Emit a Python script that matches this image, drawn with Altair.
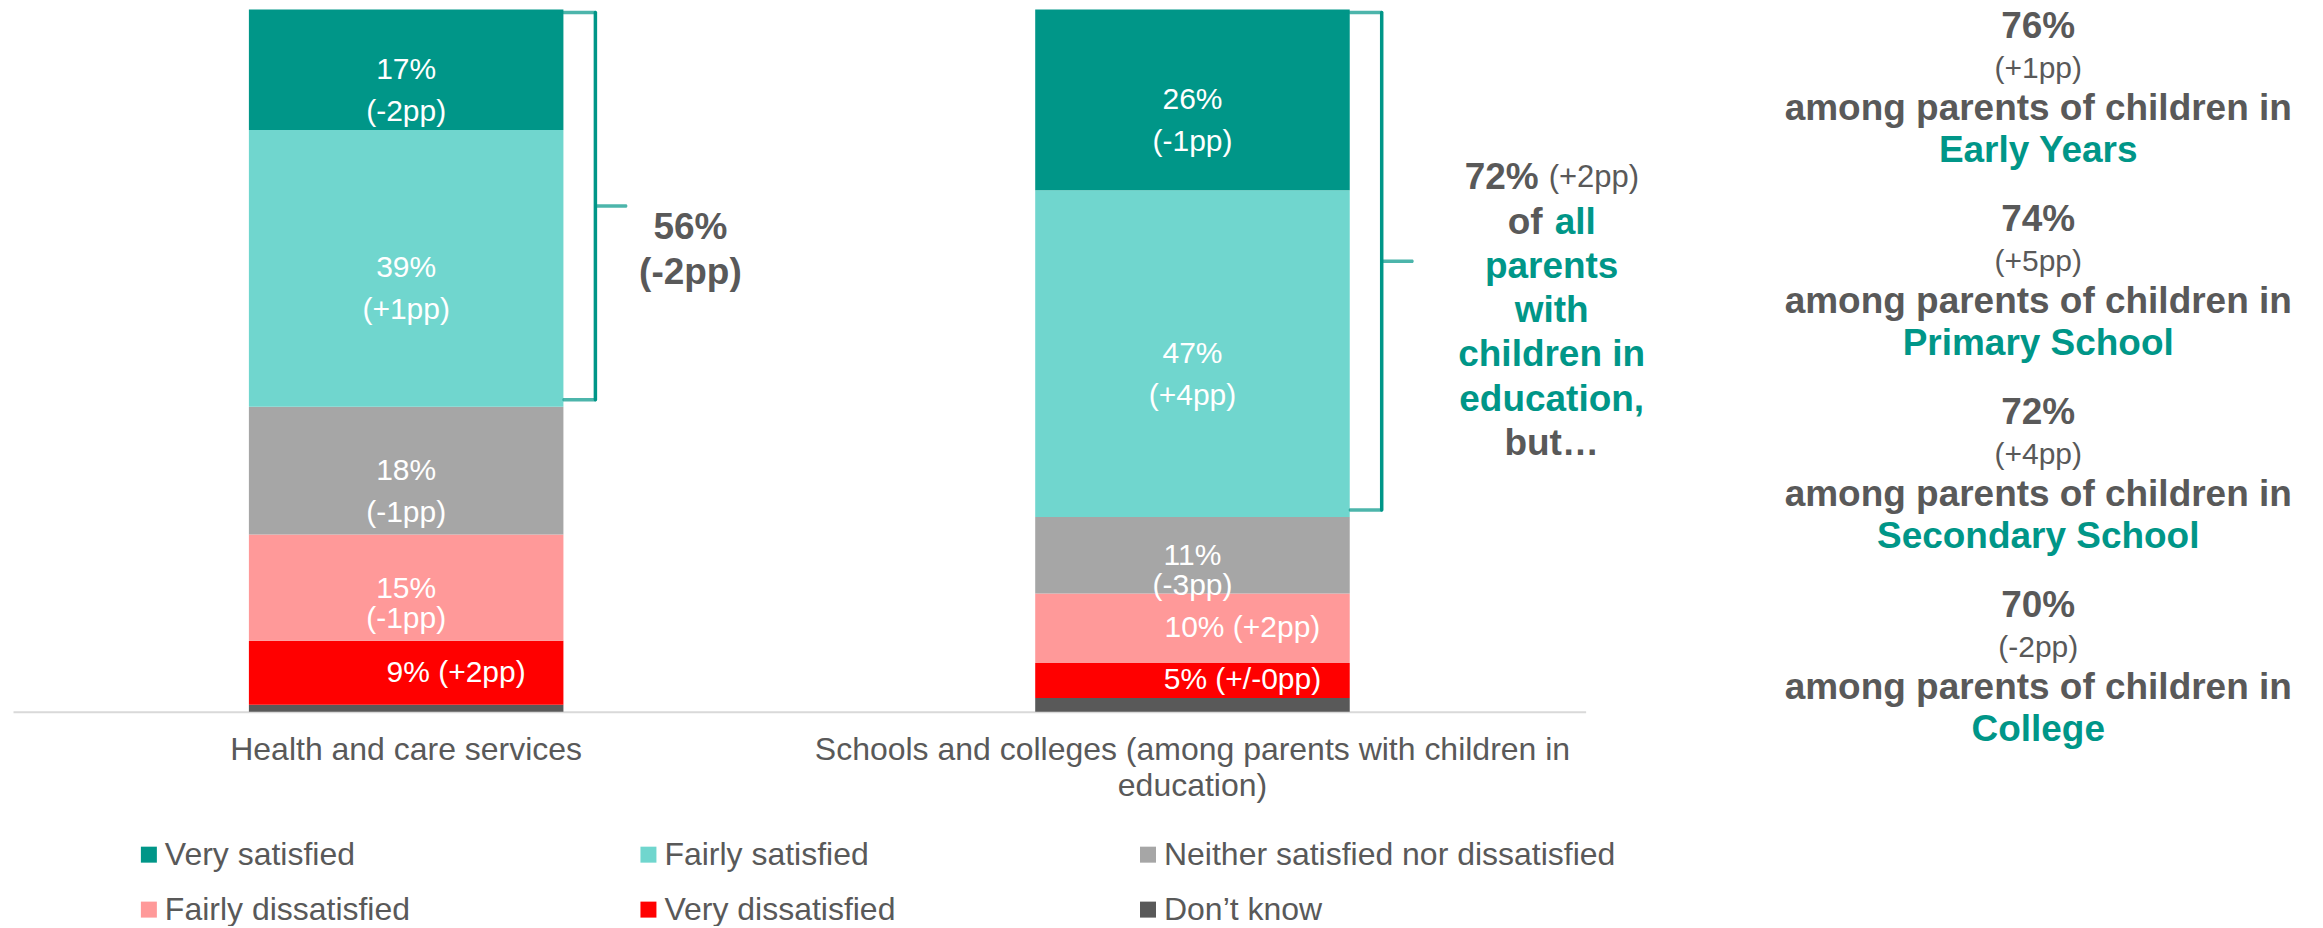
import altair as alt
import pandas as pd

# ---------------- data ----------------
CATEGORIES = [
    "Health and care services",
    "Schools and colleges (among parents with children in\neducation)",
]
RESPONSES = [
    "Very satisfied",
    "Fairly satisfied",
    "Neither satisfied nor dissatisfied",
    "Fairly dissatisfied",
    "Very dissatisfied",
    "Don\u2019t know",
]
COLORS = ["#009688", "#70D6CE", "#A6A6A6", "#FF9999", "#FF0000", "#595959"]
HEALTH = [17, 39, 18, 15, 9, 1]
SCHOOLS = [26, 47, 11, 10, 5, 2]
HEALTH_CHANGE = ["-2", "+1", "-1", "-1", "+2", ""]
SCHOOLS_CHANGE = ["-1", "+4", "-3", "+2", "+/-0", ""]
SATISFIED_TOTAL = [56, 72]
SATISFIED_CHANGE = ["-2", "+2"]
PHASES = ["Early Years", "Primary School", "Secondary School", "College"]
PHASE_PCT = [76, 74, 72, 70]
PHASE_CHANGE = ["+1", "+5", "+4", "-2"]

# ---------------- style / layout ----------------
FONT = "Liberation Sans"
GREY = "#595959"
TEAL = "#009688"
PLOT_W = 1574
PLOT_H = 703
STEP = PLOT_W / len(CATEGORIES)
BAR_W = STEP * 0.4
HOOK = 32
TIP = 32

rows = []
for cat, vals, chg in [(CATEGORIES[0], HEALTH, HEALTH_CHANGE), (CATEGORIES[1], SCHOOLS, SCHOOLS_CHANGE)]:
    for i, r in enumerate(RESPONSES):
        rows.append({"cat": cat, "response": r, "value": vals[i], "change": chg[i],
                     "order": len(RESPONSES) - 1 - i})
df = pd.DataFrame(rows)

base = alt.Chart(df).transform_stack(
    stack="value", groupby=["cat"], as_=["y0", "y1"],
    sort=[alt.SortField(field="order", order="ascending")], offset="normalize",
).transform_calculate(mid="(datum.y0 + datum.y1) / 2")

yscale = alt.Scale(domain=[0, 1])
xenc = alt.X("cat:N", sort=CATEGORIES, title=None)

bars = base.mark_bar().encode(
    x=alt.X("cat:N", sort=CATEGORIES, title=None,
            scale=alt.Scale(paddingInner=0.6, paddingOuter=0.3),
            axis=alt.Axis(labelAngle=0, labelFontSize=32, labelColor=GREY, labelFont=FONT,
                          labelLimit=1400, labelPadding=23, labelLineHeight=36,
                          labelExpr="split(datum.label, '\\n')", ticks=False,
                          domainColor="#D9D9D9", domainWidth=2, grid=False)),
    y=alt.Y("y0:Q", scale=yscale, axis=None),
    y2="y1:Q",
    color=alt.Color("response:N", scale=alt.Scale(domain=RESPONSES, range=COLORS),
                    legend=alt.Legend(title=None, orient="none", legendX=120, legendY=830,
                                      direction="horizontal",
                                      columns=3, symbolType="square", symbolSize=256,
                                      symbolStrokeWidth=0, labelFontSize=32, labelColor=GREY,
                                      labelFont=FONT, labelLimit=900, labelOffset=0,
                                      columnPadding=16, rowPadding=23, gridAlign="all",
                                      padding=0)),
    order=alt.Order("order:Q"),
)

label_base = base.transform_filter("datum.order > 0").transform_calculate(
    vlabel="datum.value + '%'",
    clabel="'(' + datum.change + 'pp)'",
    ilabel="datum.value + '% (' + datum.change + 'pp)'",
)
txt = dict(color="white", fontSize=30, font=FONT, baseline="middle", align="center")
big = label_base.transform_filter("datum.value >= 17")
med = label_base.transform_filter("datum.value > 10 && datum.value < 17")
small = label_base.transform_filter("datum.value <= 10")
ymid = alt.Y("mid:Q", scale=yscale)
labels = [
    big.mark_text(**txt).encode(x=xenc, y=ymid, text="vlabel:N"),
    big.mark_text(dy=42, **txt).encode(x=xenc, y=ymid, text="clabel:N"),
    med.mark_text(dy=1, **txt).encode(x=xenc, y=ymid, text="vlabel:N"),
    med.mark_text(dy=31, **txt).encode(x=xenc, y=ymid, text="clabel:N"),
    small.mark_text(dx=50, **txt).encode(x=xenc, y=ymid, text="ilabel:N"),
]

brace_base = base.transform_filter("datum.order >= 4").transform_aggregate(
    lo="min(y0)", hi="max(y1)", groupby=["cat"]
).transform_calculate(mid="(datum.lo + datum.hi) / 2")
brace = [
    brace_base.mark_rule(color=TEAL, strokeWidth=3.5, strokeCap="round",
                         xOffset=BAR_W / 2 + HOOK, yOffset=3, y2Offset=-7).encode(
        x=xenc, y=alt.Y("hi:Q", scale=yscale), y2="lo:Q"),
    brace_base.mark_tick(color=TEAL, orient="horizontal", thickness=3.5, size=HOOK + 2,
                         cornerRadius=1.5, xOffset=BAR_W / 2 + HOOK / 2, yOffset=3).encode(
        x=xenc, y=alt.Y("hi:Q", scale=yscale)),
    brace_base.mark_tick(color=TEAL, orient="horizontal", thickness=3.5, size=HOOK + 2,
                         cornerRadius=1.5, xOffset=BAR_W / 2 + HOOK / 2, yOffset=-7).encode(
        x=xenc, y=alt.Y("lo:Q", scale=yscale)),
    brace_base.mark_tick(color=TEAL, orient="horizontal", thickness=3.5, size=TIP,
                         cornerRadius=1.5, xOffset=BAR_W / 2 + HOOK + TIP / 2, yOffset=-2).encode(
        x=xenc, y=alt.Y("mid:Q", scale=yscale)),
]

ONE = pd.DataFrame({"k": [0]})


def note(text, x, y, size, color, bold=True, align="center"):
    return alt.Chart(ONE).mark_text(
        fontSize=size, fontWeight="bold" if bold else "normal", color=color,
        align=align, baseline="middle", font=FONT,
    ).encode(x=alt.value(x), y=alt.value(y), text=alt.value(text))


notes = [
    note(f"{SATISFIED_TOTAL[0]}%", 678, 219, 37, GREY),
    note(f"({SATISFIED_CHANGE[0]}pp)", 678, 264, 37, GREY),
]
LINE72 = 44.3
Y72 = 169
notes += [
    note(f"{SATISFIED_TOTAL[1]}%", 1527, Y72, 37, GREY, align="right"),
    note(f"({SATISFIED_CHANGE[1]}pp)", 1537, Y72, 31, GREY, bold=False, align="left"),
    note("of", 1531, Y72 + LINE72, 37, GREY, align="right"),
    note("all", 1543, Y72 + LINE72, 37, TEAL, align="left"),
    note("parents", 1540, Y72 + 2 * LINE72, 37, TEAL),
    note("with", 1540, Y72 + 3 * LINE72, 37, TEAL),
    note("children in", 1540, Y72 + 4 * LINE72, 37, TEAL),
    note("education,", 1540, Y72 + 5 * LINE72, 37, TEAL),
    note("but\u2026", 1540, Y72 + 6 * LINE72, 37, GREY),
]
PANEL_X = 2027
BLOCK = 193
OFFS = [18, 60, 100, 142]
for i, ph in enumerate(PHASES):
    y0 = BLOCK * i
    notes += [
        note(f"{PHASE_PCT[i]}%", PANEL_X, y0 + OFFS[0], 37, GREY),
        note(f"({PHASE_CHANGE[i]}pp)", PANEL_X, y0 + OFFS[1], 30, GREY, bold=False),
        note("among parents of children in", PANEL_X, y0 + OFFS[2], 37, GREY),
        note(ph, PANEL_X, y0 + OFFS[3], 37, TEAL),
    ]

chart = alt.layer(bars, *labels, *brace, *notes).properties(
    width=PLOT_W, height=PLOT_H,
    padding={"left": 5, "top": 1, "right": 730, "bottom": 214},
    autosize=alt.AutoSizeParams(type="none"),
).configure(font=FONT).configure_view(stroke=None)

chart.save("out.html", embed_options={"renderer": "svg", "actions": False})
